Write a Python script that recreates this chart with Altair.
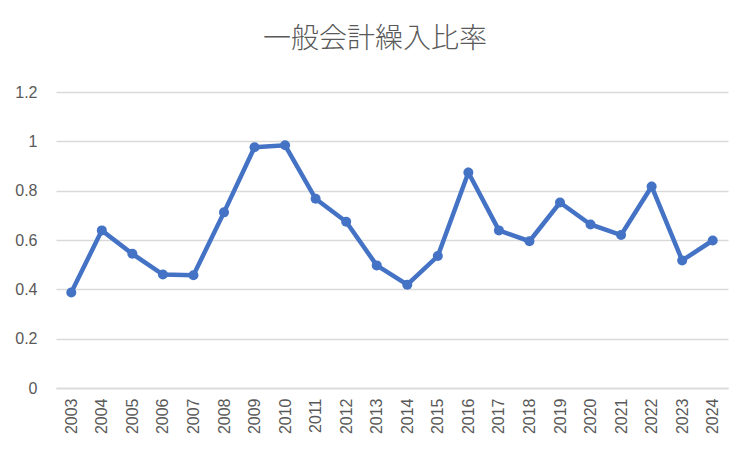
import altair as alt
import pandas as pd

years = [str(y) for y in range(2003, 2025)]
ratios = [0.387, 0.639, 0.544, 0.460, 0.457, 0.712, 0.976, 0.984, 0.767, 0.674, 0.497,
          0.419, 0.535, 0.874, 0.639, 0.595, 0.752, 0.663, 0.620, 0.817, 0.517, 0.598]
y_ticks = [0, 0.2, 0.4, 0.6, 0.8, 1.0, 1.2]

df = pd.DataFrame({"year": years, "ratio": ratios})

grey = "#595959"
blue = "#4472C4"

base = alt.Chart(df).encode(
    x=alt.X("year:N", sort=years, title=None,
            scale=alt.Scale(paddingInner=0, paddingOuter=0),
            axis=alt.Axis(labelAngle=-90, labelAlign="right", labelBaseline="middle",
                          labelColor=grey, labelFontSize=16, labelFont="Liberation Sans",
                          labelPadding=10, ticks=False, domainColor="#D9D9D9",
                          domainWidth=1.3, grid=False)),
    y=alt.Y("ratio:Q", title=None,
            scale=alt.Scale(domain=[0, 1.2], nice=False, zero=True),
            axis=alt.Axis(values=y_ticks, labelColor=grey, labelFontSize=16,
                          labelFont="Liberation Sans", labelPadding=19, ticks=False,
                          domain=False, gridColor="#D9D9D9", gridWidth=1.3,
                          labelExpr="datum.value == 1 ? '1' : datum.value == 0 ? '0' : format(datum.value, '.1f')")),
)

line = base.mark_line(color=blue, strokeWidth=4.5)
pts = base.mark_circle(color=blue, size=100, opacity=1)

chart = (line + pts).properties(
    width=672, height=296,
    title=alt.TitleParams("一般会計繰入比率", fontSize=28, font="Noto Sans CJK JP",
                          fontWeight=300, color=grey, anchor="middle", dx=-17,
                          offset=30),
    autosize=alt.AutoSizeParams(type="none"),
    padding={"left": 48, "top": 84, "right": 16, "bottom": 56},
    background="white",
).configure_view(stroke=None)

chart.save("out.html", embed_options={"renderer": "svg", "actions": False})
